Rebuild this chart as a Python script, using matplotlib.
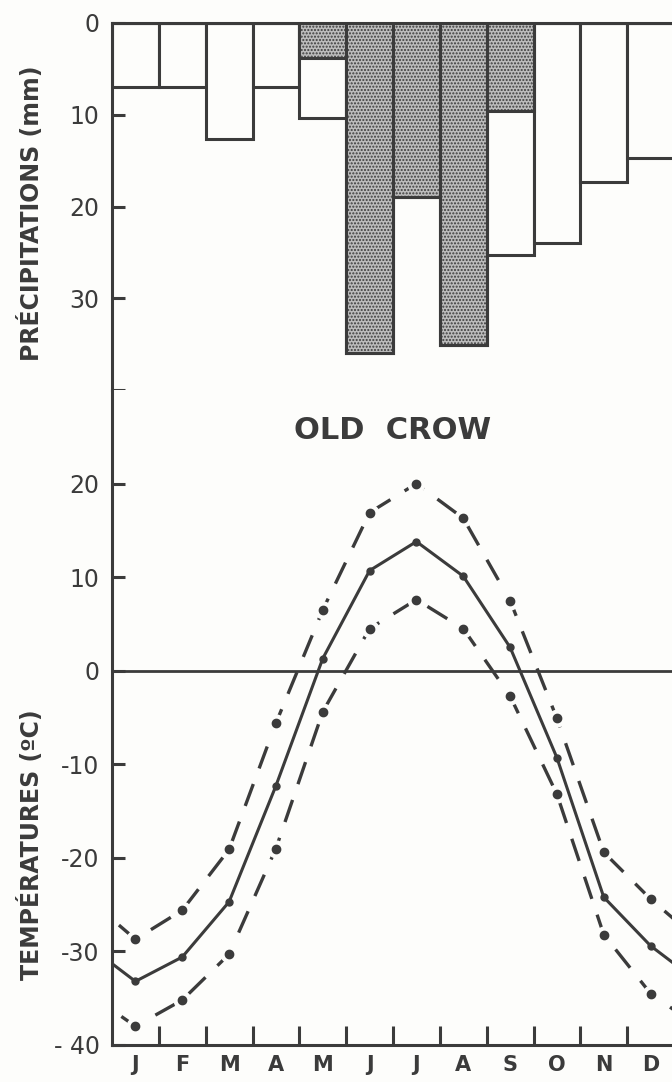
import matplotlib.pyplot as plt
import numpy as np

# ---------------- data ----------------
mois = ['J', 'F', 'M', 'A', 'M', 'J', 'J', 'A', 'S', 'O', 'N', 'D']
precip_tot = [7.0, 7.0, 12.6, 7.0, 10.3, 36.0, 19.0, 35.1, 25.3, 24.0, 17.3, 14.7]
pluie = [0, 0, 0, 0, 3.8, 36.0, 19.0, 35.1, 9.6, 0, 0, 0]
t_moy = [-33.2, -30.6, -24.7, -12.3, 1.3, 10.7, 13.8, 10.1, 2.5, -9.3, -24.2, -29.4]
t_max = [-28.7, -25.6, -19.1, -5.6, 6.5, 16.9, 20.0, 16.3, 7.5, -5.1, -19.4, -24.4]
t_min = [-38.0, -35.2, -30.3, -19.0, -4.4, 4.5, 7.6, 4.5, -2.7, -13.2, -28.2, -34.5]

encre = '#3b3b3b'
fond = '#fdfdfb'
plt.rcParams['font.family'] = 'DejaVu Sans'
plt.rcParams['hatch.color'] = '#555555'
plt.rcParams['hatch.linewidth'] = 1.0

fig = plt.figure(figsize=(6.72, 10.82), dpi=100, facecolor=fond)
W, H = 672.0, 1082.0
x0 = 112 / W
x1 = 674 / W
ax1 = fig.add_axes([x0, 1 - 390 / H, x1 - x0, (390 - 23) / H])
ax2 = fig.add_axes([x0, 1 - 1045 / H, x1 - x0, (1045 - 390) / H])
for ax in (ax1, ax2):
    ax.set_facecolor(fond)
    ax.set_xlim(0, 12)
    for s in ax.spines.values():
        s.set_color(encre)
        s.set_linewidth(2.2)
    ax.spines['right'].set_visible(False)

# ---------------- precipitations ----------------
xc = np.arange(12) + 0.5
ax1.bar(xc, precip_tot, width=1.0, color=fond, edgecolor=encre, linewidth=2.2, zorder=2)
ax1.bar(xc, pluie, width=1.0, color='#bcbcbc', edgecolor=encre, linewidth=2.2,
        hatch='.....', zorder=3)
ax1.set_ylim(40, 0)
ax1.spines['bottom'].set_visible(False)
ax1.set_xticks([])
ax1.set_yticks([0, 10, 20, 30, 40])
ax1.set_yticklabels(['0', '10', '20', '30', ''])
ax1.tick_params(axis='y', direction='in', length=9, width=2.2, color=encre,
                labelsize=17, labelcolor=encre, pad=9)

# ---------------- temperatures ----------------
ax2.set_ylim(-40, 30)
ax2.spines['top'].set_visible(False)
ax2.axhline(0, color=encre, lw=2, zorder=1)

# periodic: Dec before Jan and Jan after Dec so lines run to the edges
xe = np.concatenate([[-0.5], xc, [12.5]])
def boucle(v):
    return np.concatenate([[v[-1]], v, [v[0]]])

ax2.plot(xe, boucle(t_moy), color=encre, lw=2.2, zorder=3)
ax2.plot(xc, t_moy, 'o', color=encre, ms=5, zorder=4)
for serie in (t_max, t_min):
    ax2.plot(xe, boucle(serie), color=encre, lw=2.4, ls=(0, (7, 5)), zorder=2)
    ax2.plot(xc, serie, 'o', color=fond, ms=12, zorder=3)
    ax2.plot(xc, serie, 'o', color=encre, ms=6, zorder=4)

ax2.set_yticks([-40, -30, -20, -10, 0, 10, 20])
ax2.set_yticklabels(['- 40', '-30', '-20', '-10', '0', '10', '20'])
ax2.tick_params(axis='y', direction='in', length=9, width=2.2, color=encre,
                labelsize=17, labelcolor=encre, pad=9)
ax2.set_xticks(np.arange(1, 12))
ax2.set_xticklabels([])
ax2.set_xticks(xc, minor=True)
ax2.set_xticklabels(mois, minor=True)
ax2.tick_params(axis='x', which='major', direction='in', length=14, width=2.2, color=encre)
ax2.tick_params(axis='x', which='minor', length=0, labelsize=15, labelcolor=encre,
                pad=7)
for lab in ax2.get_xticklabels(minor=True):
    lab.set_fontweight('bold')

ax2.text(6.0, 25.7, 'OLD  CROW', ha='center', va='center', fontsize=22,
         color=encre, fontweight='bold')

fig.text(31 / W, 1 - 213 / H, 'PRÉCIPITATIONS (mm)', rotation=90, ha='center',
         va='center', fontsize=17, color=encre, fontweight='bold')
fig.text(31 / W, 1 - 845 / H, 'TEMPÉRATURES (ºC)', rotation=90, ha='center',
         va='center', fontsize=17, color=encre, fontweight='bold')

fig.savefig('out.png', dpi=100, facecolor=fond)
